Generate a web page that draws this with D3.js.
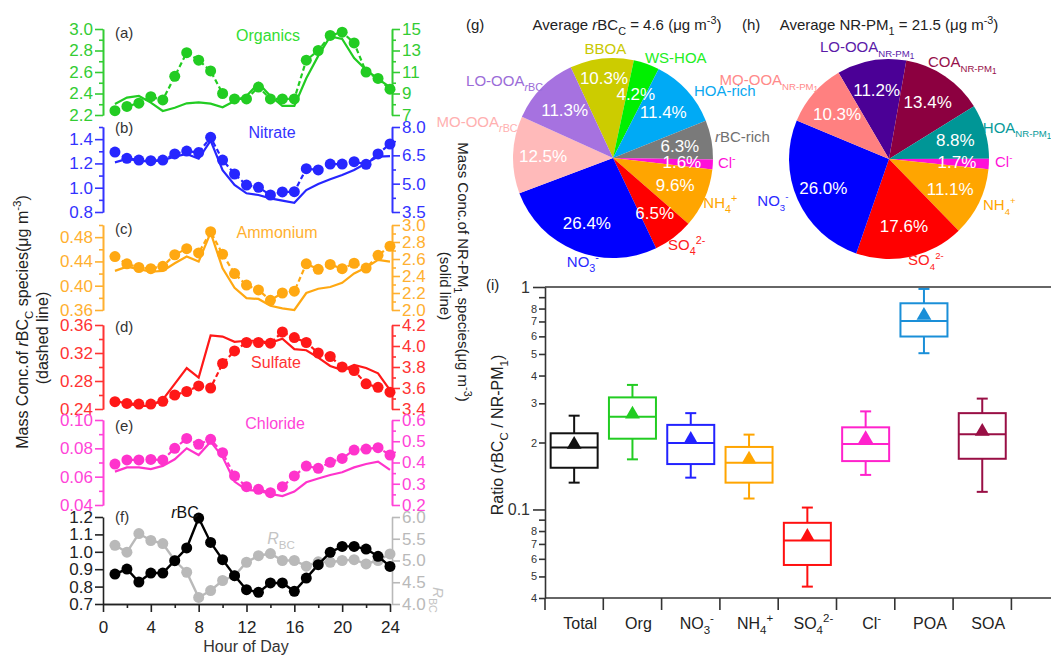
<!DOCTYPE html>
<html><head><meta charset="utf-8">
<script src="https://cdn.jsdelivr.net/npm/d3@7"></script>
<style>
body{margin:0;background:#fff}
svg{display:block}
text{font-family:Arial,"Liberation Sans",Helvetica,sans-serif}
</style>
</head><body>
<svg id="c" width="1051" height="657"></svg>
<script>
// ---------------- DATA ----------------
const hours = d3.range(1, 25);
const orgRBC = [2.24,2.28,2.31,2.37,2.34,2.56,2.78,2.71,2.61,2.40,2.35,2.35,2.46,2.35,2.35,2.35,2.71,2.80,2.94,2.97,2.87,2.60,2.54,2.44];
const orgNR  = [8.03,8.62,8.77,8.15,7.37,7.68,8.09,8.18,8.06,7.72,8.31,8.77,9.96,8.77,7.84,7.84,10.42,12.5,14.3,14.07,12.3,11.2,10.36,9.58];
const nitRBC = [1.294,1.242,1.228,1.223,1.228,1.278,1.302,1.289,1.415,1.228,1.113,1.022,1.003,0.94,0.965,0.967,1.157,1.146,1.195,1.195,1.214,1.193,1.278,1.36];
const nitNR  = [6.13,6.31,6.22,6.16,6.25,6.43,6.57,6.32,7.28,5.72,4.93,4.49,4.40,4.22,4.10,3.99,4.66,4.98,5.23,5.46,5.72,6.08,6.43,6.46];
const ammRBC = [0.448,0.436,0.430,0.428,0.432,0.451,0.461,0.454,0.489,0.452,0.420,0.401,0.393,0.376,0.388,0.391,0.436,0.427,0.435,0.428,0.437,0.429,0.450,0.465];
const ammNR  = [2.46,2.51,2.48,2.45,2.46,2.55,2.63,2.57,2.91,2.49,2.26,2.14,2.13,2.05,2.02,2.00,2.20,2.25,2.27,2.32,2.43,2.50,2.59,2.57];
const sulRBC = [0.2505,0.248,0.247,0.247,0.251,0.260,0.265,0.273,0.270,0.305,0.323,0.335,0.335,0.334,0.350,0.342,0.335,0.320,0.315,0.300,0.295,0.276,0.271,0.264];
const sulNR  = [3.48,3.45,3.43,3.43,3.49,3.64,3.79,3.70,4.10,4.09,4.04,4.05,4.05,4.03,4.07,3.97,3.96,3.89,3.81,3.77,3.82,3.79,3.74,3.58];
const chlRBC = [0.0689,0.0718,0.0718,0.0722,0.0718,0.080,0.087,0.0828,0.0864,0.0769,0.0605,0.0529,0.0511,0.0487,0.0529,0.0605,0.0675,0.0659,0.0701,0.0729,0.0788,0.0795,0.0805,0.0753];
const chlNR  = [0.357,0.377,0.377,0.369,0.384,0.415,0.467,0.435,0.498,0.427,0.310,0.271,0.267,0.252,0.242,0.263,0.307,0.325,0.341,0.354,0.377,0.393,0.404,0.365];
const rbcConc = [0.872,0.901,0.826,0.878,0.878,0.949,1.022,1.194,1.054,0.955,0.863,0.782,0.767,0.821,0.821,0.773,0.849,0.926,0.997,1.031,1.031,1.016,0.974,0.916];
const rbcRatio = [5.35,5.19,5.62,5.46,5.39,5.00,4.73,4.15,4.31,4.54,4.65,4.96,5.11,5.16,5.00,5.00,4.87,4.97,4.96,5.00,5.02,4.92,5.00,5.15];
const hourTicks = [0,4,8,12,16,20,24];

const pieGNames  = ["BBOA","WS-HOA","HOA-rich","rBC-rich","Cl","NH4","SO4","NO3","MO-OOA","LO-OOA"];
const pieGValues = [10.3,4.2,11.4,6.3,1.6,9.6,6.5,26.4,12.5,11.3];
const pieHNames  = ["LO-OOA","COA","HOA","Cl","NH4","SO4","NO3","MO-OOA"];
const pieHValues = [11.2,13.4,8.8,1.7,11.1,17.6,26.0,10.3];

const boxCats = ["Total","Org","NO3","NH4","SO4","Cl","POA","SOA"];
const boxLow  = [0.132,0.168,0.139,0.112,0.045,0.143,0.504,0.120];
const boxQ1   = [0.154,0.208,0.160,0.132,0.0563,0.165,0.599,0.169];
const boxMed  = [0.190,0.261,0.199,0.162,0.0726,0.197,0.704,0.218];
const boxQ3   = [0.220,0.319,0.240,0.191,0.0871,0.234,0.845,0.271];
const boxHigh = [0.264,0.363,0.271,0.217,0.102,0.276,0.980,0.315];
const boxMean = [0.196,0.268,0.206,0.168,0.0755,0.208,0.744,0.224];
const ratioMajor = [1, 0.1];
const ratioMinor = [0.9,0.8,0.7,0.6,0.5,0.4,0.3,0.2,0.09,0.08,0.07,0.06,0.05,0.04];

// ---------------- HELPERS ----------------
const svg = d3.select('#c');
function rich(sel, parts, fs, subScale){
  const ss = subScale || 0.72;
  let cur = 0;
  parts.forEach(p => {
    const s = p[0], t = p[1] || '';
    const ts = sel.append('tspan').text(s);
    let target = 0;
    if (t.includes('sub2')) target = fs*0.45;
    else if (t.includes('sub')) target = fs*0.3;
    else if (t.includes('sup')) target = -fs*0.42;
    if (target !== cur) { ts.attr('dy', target - cur); cur = target; }
    if (t.includes('sub2')) ts.attr('font-size', fs*ss*0.85);
    else if (t.includes('sub') || t.includes('sup')) ts.attr('font-size', fs*ss);
    if (t.includes('i')) ts.attr('font-style', 'italic');
  });
  return sel;
}

// ---------------- DIURNAL PANELS ----------------
const xH = d3.scaleLinear().domain([0,24]).range([103,390]);
const XL = 103, XR = 392;
const panels = [
  {lab:'(a)', labY:38, name:'Organics', nx:268, ny:41, top:29, bot:115, dl:[2.2,3.0], dr:[7,15],
   lt:d3.range(2.2,3.01,0.2), lmin:d3.range(2.3,3.0,0.2), rt:[7,9,11,13,15], rmin:[8,10,12,14],
   lf:d3.format('.1f'), rf:d3.format('d'), col:'#22cc22', acol:'#33cc33', tcol:'#33dd33', dashed:orgRBC, solid:orgNR},
  {lab:'(b)', labY:133, name:'Nitrate', nx:272, ny:138, top:127, bot:212, dl:[0.8,1.5], dr:[3.5,8.0],
   lt:[0.8,1.0,1.2,1.4], lmin:[0.9,1.1,1.3,1.5], rt:[3.5,5.0,6.5,8.0], rmin:[4.25,5.75,7.25],
   lf:d3.format('.1f'), rf:d3.format('.1f'), col:'#2626ff', acol:'#3333ff', tcol:'#3333ff', dashed:nitRBC, solid:nitNR},
  {lab:'(c)', labY:234, name:'Ammonium', nx:277, ny:238, top:225, bot:310, dl:[0.36,0.50], dr:[2.0,3.0],
   lt:[0.36,0.40,0.44,0.48], lmin:[0.38,0.42,0.46,0.50], rt:[2.0,2.2,2.4,2.6,2.8,3.0], rmin:[2.1,2.3,2.5,2.7,2.9],
   lf:d3.format('.2f'), rf:d3.format('.1f'), col:'#ffa812', acol:'#ffb030', tcol:'#ffb030', dashed:ammRBC, solid:ammNR},
  {lab:'(d)', labY:332, name:'Sulfate', nx:276, ny:368, top:325, bot:409, dl:[0.24,0.36], dr:[3.4,4.2],
   lt:[0.24,0.28,0.32,0.36], lmin:[0.26,0.30,0.34], rt:[3.4,3.6,3.8,4.0,4.2], rmin:[3.5,3.7,3.9,4.1],
   lf:d3.format('.2f'), rf:d3.format('.1f'), col:'#ff1818', acol:'#ff3333', tcol:'#ff3333', dashed:sulRBC, solid:sulNR},
  {lab:'(e)', labY:431, name:'Chloride', nx:275, ny:429, top:420, bot:505, dl:[0.04,0.10], dr:[0.2,0.6],
   lt:[0.04,0.06,0.08,0.10], lmin:[0.05,0.07,0.09], rt:[0.2,0.3,0.4,0.5,0.6], rmin:[0.25,0.35,0.45,0.55],
   lf:d3.format('.2f'), rf:d3.format('.1f'), col:'#ff33cc', acol:'#ff44d8', tcol:'#ff44d8', dashed:chlRBC, solid:chlNR}
];

function styleAxis(g, col, fs){
  g.selectAll('path').attr('stroke', col).attr('stroke-width', 1.6);
  g.selectAll('line').attr('stroke', col).attr('stroke-width', 1.6);
  g.selectAll('text').attr('fill', col).attr('font-size', fs).attr('font-family', 'Arial, "Liberation Sans", sans-serif');
}

const TFS = 17;
panels.forEach(p => {
  const yl = d3.scaleLinear().domain(p.dl).range([p.bot, p.top]);
  const yr = d3.scaleLinear().domain(p.dr).range([p.bot, p.top]);
  const gl = svg.append('g').attr('transform', `translate(${XL},0)`)
    .call(d3.axisLeft(yl).tickValues(p.lt).tickFormat(p.lf).tickSize(8).tickSizeOuter(0).tickPadding(2));
  styleAxis(gl, p.acol, TFS);
  const glm = svg.append('g').attr('transform', `translate(${XL},0)`)
    .call(d3.axisLeft(yl).tickValues(p.lmin).tickFormat('').tickSize(4).tickSizeOuter(0));
  styleAxis(glm, p.acol, TFS);
  const gr = svg.append('g').attr('transform', `translate(${XR},0)`)
    .call(d3.axisRight(yr).tickValues(p.rt).tickFormat(p.rf).tickSize(8).tickSizeOuter(0).tickPadding(2));
  styleAxis(gr, p.acol, TFS);
  const grm = svg.append('g').attr('transform', `translate(${XR},0)`)
    .call(d3.axisRight(yr).tickValues(p.rmin).tickFormat('').tickSize(4).tickSizeOuter(0));
  styleAxis(grm, p.acol, TFS);
  svg.append('path').datum(p.solid)
    .attr('d', d3.line().x((d,i)=>xH(hours[i])).y(d=>yr(d)))
    .attr('fill','none').attr('stroke', p.col).attr('stroke-width', 2.2);
  svg.append('path').datum(p.dashed)
    .attr('d', d3.line().x((d,i)=>xH(hours[i])).y(d=>yl(d)))
    .attr('fill','none').attr('stroke', p.col).attr('stroke-width', 2.2).attr('stroke-dasharray','5,3');
  svg.append('g').selectAll('circle').data(p.dashed).join('circle')
    .attr('cx',(d,i)=>xH(hours[i])).attr('cy',d=>yl(d)).attr('r',5.5).attr('fill',p.col);
  svg.append('text').attr('x',115).attr('y',p.labY).attr('font-size',15).attr('fill','#333').text(p.lab);
  svg.append('text').attr('x',p.nx).attr('y',p.ny).attr('text-anchor','middle').attr('font-size',16).attr('fill',p.tcol).text(p.name);
});

// panel f
{
  const top = 517, bot = 604;
  const yl = d3.scaleLinear().domain([0.7,1.2]).range([bot, top]);
  const yr = d3.scaleLinear().domain([4.0,6.0]).range([bot, top]);
  const gray = '#b9b9b9';
  const gl = svg.append('g').attr('transform', `translate(${XL},0)`)
    .call(d3.axisLeft(yl).tickValues([0.7,0.8,0.9,1.0,1.1,1.2]).tickFormat(d3.format('.1f')).tickSize(8).tickSizeOuter(0).tickPadding(2));
  styleAxis(gl, '#222', TFS);
  const gr = svg.append('g').attr('transform', `translate(${XR},0)`)
    .call(d3.axisRight(yr).tickValues([4.0,4.5,5.0,5.5,6.0]).tickFormat(d3.format('.1f')).tickSize(8).tickSizeOuter(0).tickPadding(2));
  styleAxis(gr, gray, TFS);
  const gx = svg.append('g').attr('transform', `translate(0,${bot})`)
    .call(d3.axisBottom(xH).tickValues(hourTicks).tickFormat(d3.format('d')).tickSize(8).tickSizeOuter(0).tickPadding(9));
  styleAxis(gx, '#222', TFS);
  const gxm = svg.append('g').attr('transform', `translate(0,${bot})`)
    .call(d3.axisBottom(xH).tickValues([2,6,10,14,18,22]).tickFormat('').tickSize(4).tickSizeOuter(0));
  styleAxis(gxm, '#222', TFS);
  svg.append('path').datum(rbcRatio)
    .attr('d', d3.line().x((d,i)=>xH(hours[i])).y(d=>yr(d)))
    .attr('fill','none').attr('stroke', gray).attr('stroke-width', 2.4);
  svg.append('g').selectAll('circle').data(rbcRatio).join('circle')
    .attr('cx',(d,i)=>xH(hours[i])).attr('cy',d=>yr(d)).attr('r',5.5).attr('fill',gray);
  svg.append('path').datum(rbcConc)
    .attr('d', d3.line().x((d,i)=>xH(hours[i])).y(d=>yl(d)))
    .attr('fill','none').attr('stroke', '#000').attr('stroke-width', 2.4);
  svg.append('g').selectAll('circle').data(rbcConc).join('circle')
    .attr('cx',(d,i)=>xH(hours[i])).attr('cy',d=>yl(d)).attr('r',5.5).attr('fill','#000');
  svg.append('text').attr('x',115).attr('y',522).attr('font-size',15).attr('fill','#333').text('(f)');
  rich(svg.append('text').attr('x',185).attr('y',518).attr('text-anchor','middle').attr('font-size',16).attr('fill','#111'),
    [['r','i'],['BC']], 16);
  rich(svg.append('text').attr('x',281).attr('y',544).attr('text-anchor','middle').attr('font-size',16).attr('fill','#c4c4c4'),
    [['R','i'],['BC','sub']], 16);
  svg.append('text').attr('x',246).attr('y',652).attr('text-anchor','middle').attr('font-size',16).attr('fill','#333').text('Hour of Day');
  rich(svg.append('text').attr('transform','translate(433,600) rotate(90)').attr('text-anchor','middle').attr('font-size',15).attr('fill','#c4c4c4'),
    [['R','i'],['BC','sub']], 15);
}

// y titles
rich(svg.append('text').attr('transform','translate(28,322) rotate(-90)').attr('text-anchor','middle').attr('font-size',16).attr('fill','#222'),
  [['Mass Conc.of '],['r','i'],['BC'],['C','sub'],[' species(μg m'],['-3','sup'],[')']], 16);
svg.append('text').attr('transform','translate(48,338) rotate(-90)').attr('text-anchor','middle').attr('font-size',16).attr('fill','#222').text('(dashed line)');
rich(svg.append('text').attr('transform','translate(458,272) rotate(90)').attr('text-anchor','middle').attr('font-size',15).attr('fill','#222'),
  [['Mass Conc.of NR-PM'],['1','sub'],[' species(μg m'],['-3','sup'],[')']], 15);
svg.append('text').attr('transform','translate(440,286) rotate(90)').attr('text-anchor','middle').attr('font-size',15).attr('fill','#222').text('(solid line)');

// ---------------- PIES ----------------
const deg = Math.PI/180;
const pieG = {
  cx:613, cy:158, r:100, start:-25, subScale:0.72,
  colors:['#cccc00','#00f000','#00aaf5','#7a7a7a','#ff10d8','#ffa500','#ff0000','#0000ff','#ffbaba','#a672e0'],
  labelCols:['#c8c800','#22ee22','#0aa8f0','#707070','#ff10d8','#ffa500','#ff2020','#2a2aff','#ffb0b0','#9b6cd8'],
  rich:[ [['BBOA']],[['WS-HOA']],[['HOA-rich']],[['r','i'],['BC-rich']],[['Cl'],['-','sup']],
         [['NH'],['4','sub'],['+','sup']],[['SO'],['4','sub'],['2-','sup']],[['NO'],['3','sub'],['-','sup']],
         [['MO-OOA'],['r','subi'],['BC','sub']],[['LO-OOA'],['r','subi'],['BC','sub']] ],
  lay:[[-4,110,'middle'],[17.7,105,'start'],[50.4,105,'start'],[78.4,104,'start'],[92.7,105,'start'],
       [116.6,101,'start'],[147.7,103,'start'],[203.9,114,'start'],[290.8,102,'end'],[317.7,104,'end']],
  pctR:[80,68,68,68,69,68,69,70,70,68]
};
const pieH = {
  cx:889, cy:159, r:100, start:-30.3, subScale:0.64,
  colors:['#4b0096','#8c0040','#009696','#ff10d8','#ffa500','#ff0000','#0000ff','#ff8080'],
  labelCols:['#5a1aa8','#96104a','#089a9a','#ff10d8','#ffa500','#ff2020','#2a2aff','#ff8a8a'],
  rich:[ [['LO-OOA'],['NR-PM','sub'],['1','sub2']],[['COA'],['NR-PM','sub'],['1','sub2']],[['HOA'],['NR-PM','sub'],['1','sub2']],
         [['Cl'],['-','sup']],[['NH'],['4','sub'],['+','sup']],[['SO'],['4','sub'],['2-','sup']],[['NO'],['3','sub'],['-','sup']],
         [['MO-OOA'],['NR-PM','sub'],['1','sub2']] ],
  lay:[[-11.1,114,'middle'],[21.9,104.5,'start'],[71.4,99,'start'],[91.6,106,'start'],[116,104.6,'start'],
       [169.3,103,'start'],[247.4,109,'end'],[318,106,'end']],
  pctR:[70,69,69,68,68,69,72,69]
};
function drawPie(cfg, values){
  const pie = d3.pie().sort(null).value(d=>d).startAngle(cfg.start*deg).endAngle((cfg.start+360)*deg);
  const arcs = pie(values);
  const arc = d3.arc().innerRadius(0).outerRadius(cfg.r);
  const g = svg.append('g').attr('transform',`translate(${cfg.cx},${cfg.cy})`);
  g.selectAll('path').data(arcs).join('path').attr('d',arc).attr('fill',(d,i)=>cfg.colors[i]);
  arcs.forEach((a,i)=>{
    const mid = (a.startAngle + a.endAngle)/2;
    const pr = cfg.pctR[i];
    g.append('text').attr('x', pr*Math.sin(mid)).attr('y', -pr*Math.cos(mid)).attr('dy','0.35em')
      .attr('text-anchor','middle').attr('font-size',17).attr('fill','#fff').text(d3.format('.1f')(a.data)+'%');
    const L = cfg.lay[i];
    const t = g.append('text').attr('x', L[1]*Math.sin(L[0]*deg)).attr('y', -L[1]*Math.cos(L[0]*deg)).attr('dy','0.35em')
      .attr('text-anchor', L[2]).attr('font-size',15).attr('fill',cfg.labelCols[i]);
    rich(t, cfg.rich[i], 15, cfg.subScale);
  });
}
drawPie(pieG, pieGValues);
drawPie(pieH, pieHValues);
svg.append('text').attr('x',466).attr('y',30).attr('font-size',15).attr('fill','#222').text('(g)');
svg.append('text').attr('x',742).attr('y',30).attr('font-size',15).attr('fill','#222').text('(h)');
rich(svg.append('text').attr('x',627).attr('y',30).attr('text-anchor','middle').attr('font-size',15).attr('fill','#222'),
  [['Average '],['r','i'],['BC'],['C','sub'],[' = 4.6 (μg m'],['-3','sup'],[')']], 15);
rich(svg.append('text').attr('x',889).attr('y',30).attr('text-anchor','middle').attr('font-size',15).attr('fill','#222'),
  [['Average NR-PM'],['1','sub'],[' = 21.5 (μg m'],['-3','sup'],[')']], 15);

// ---------------- BOX PLOT ----------------
{
  const L = 545, T = 287, B = 598, R = 1051, step = 58.3;
  const yR = d3.scaleLog().domain([0.04,1]).range([B, T]);
  const xB = d3.scaleBand().domain(boxCats).range([L, L + step*boxCats.length]);
  const boxCols = ['#111111','#22cc22','#2222ff','#ffa500','#ff1010','#ff22cc','#1a8fd8','#990f45'];
  const catRich = [[['Total']],[['Org']],[['NO'],['3','sub'],['-','sup']],[['NH'],['4','sub'],['+','sup']],
                   [['SO'],['4','sub'],['2-','sup']],[['Cl'],['-','sup']],[['POA']],[['SOA']]];
  const ax = '#333';
  svg.append('line').attr('x1',L).attr('x2',R).attr('y1',T).attr('y2',T).attr('stroke',ax).attr('stroke-width',1.6);
  svg.append('line').attr('x1',L).attr('x2',R).attr('y1',B).attr('y2',B).attr('stroke',ax).attr('stroke-width',1.6);
  const gy = svg.append('g').attr('transform',`translate(${L},0)`)
    .call(d3.axisLeft(yR).tickValues(ratioMajor).tickFormat(d=>d===1?'1':'0.1').tickSize(12).tickSizeOuter(0).tickPadding(3));
  styleAxis(gy, ax, 16);
  const gym = svg.append('g').attr('transform',`translate(${L},0)`)
    .call(d3.axisLeft(yR).tickValues(ratioMinor).tickSize(6).tickSizeOuter(0).tickPadding(2)
      .tickFormat(d=>{ const m = Math.round(d/Math.pow(10,Math.floor(Math.log10(d)+1e-9))); return m===9 ? '' : String(m); }));
  styleAxis(gym, ax, 11);
  gym.select('.domain').remove();
  const bounds = d3.range(boxCats.length + 1).map(k => L + k*step);
  svg.append('g').selectAll('line').data(bounds).join('line')
    .attr('x1',d=>d).attr('x2',d=>d).attr('y1',B).attr('y2',B+12).attr('stroke',ax).attr('stroke-width',1.6);
  boxCats.forEach((c,i)=>{
    const cx = xB(c) + xB.bandwidth()/2;
    const col = boxCols[i], hw = 23.5, cw = 5.5;
    const g = svg.append('g').attr('stroke',col).attr('stroke-width',2).attr('fill','none');
    g.append('line').attr('x1',cx).attr('x2',cx).attr('y1',yR(boxHigh[i])).attr('y2',yR(boxQ3[i]));
    g.append('line').attr('x1',cx).attr('x2',cx).attr('y1',yR(boxQ1[i])).attr('y2',yR(boxLow[i]));
    g.append('line').attr('x1',cx-cw).attr('x2',cx+cw).attr('y1',yR(boxHigh[i])).attr('y2',yR(boxHigh[i]));
    g.append('line').attr('x1',cx-cw).attr('x2',cx+cw).attr('y1',yR(boxLow[i])).attr('y2',yR(boxLow[i]));
    g.append('rect').attr('x',cx-hw).attr('width',2*hw).attr('y',yR(boxQ3[i])).attr('height',yR(boxQ1[i])-yR(boxQ3[i]));
    g.append('line').attr('x1',cx-hw).attr('x2',cx+hw).attr('y1',yR(boxMed[i])).attr('y2',yR(boxMed[i]));
    svg.append('path').attr('d', d3.symbol().type(d3.symbolTriangle).size(95)())
      .attr('transform',`translate(${cx},${yR(boxMean[i])})`).attr('fill',col);
    rich(svg.append('text').attr('x',cx+6).attr('y',629).attr('text-anchor','middle').attr('font-size',16).attr('fill','#222'), catRich[i], 16);
  });
  svg.append('text').attr('x',486).attr('y',290).attr('font-size',15).attr('fill','#222').text('(i)');
  rich(svg.append('text').attr('transform','translate(503,435) rotate(-90)').attr('text-anchor','middle').attr('font-size',16).attr('fill','#222'),
    [['Ratio ('],['r','i'],['BC'],['C','sub'],[' / NR-PM'],['1','sub'],[')']], 16);
}
</script>
</body></html>
